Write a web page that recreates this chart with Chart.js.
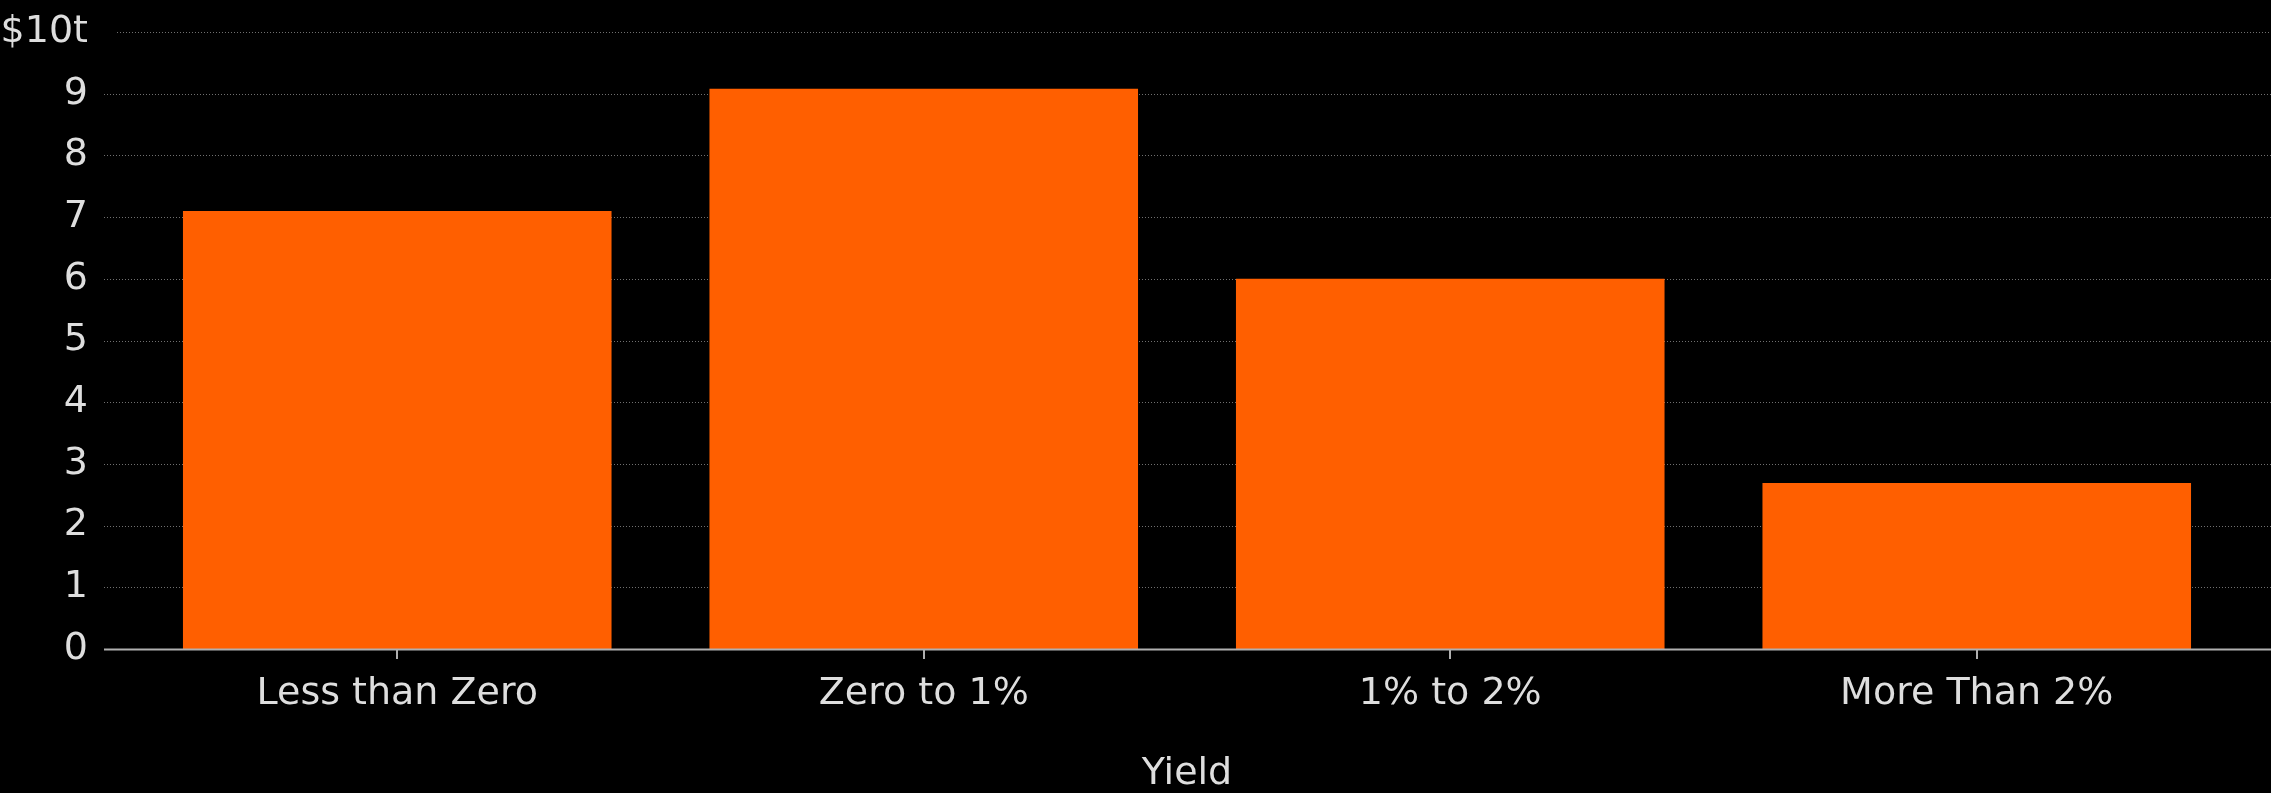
<!DOCTYPE html>
<html>
<head>
<meta charset="utf-8">
<script src="https://cdn.jsdelivr.net/npm/chart.js@4.4.0/dist/chart.umd.min.js"></script>
<style>
  html, body { margin: 0; padding: 0; background: #000; }
  #wrap { width: 2271px; height: 793px; position: relative; }
</style>
</head>
<body>
<div id="wrap"><canvas id="canvas1"></canvas></div>
<script>
// data (trillions of dollars)
var categorias = ["Less than Zero", "Zero to 1%", "1% to 2%", "More Than 2%"];
var montos = [7.1, 9.08, 6.0, 2.69];
var ticksY = [0, 1, 2, 3, 4, 5, 6, 7, 8, 9, 10];
var tituloX = "Yield";

var naranja = '#ff5f00';
var textoColor = '#dedede';
var fuente = { family: 'DejaVu Sans', size: 38 };

// dotted gridlines + zero line, stretched past the plot area like the original
var lineasExtendidas = {
  id: 'lineasExtendidas',
  beforeDatasetsDraw: function(chart) {
    var ctx = chart.ctx;
    var y = chart.scales.y;
    ctx.save();
    ticksY.forEach(function(v) {
      if (v === 0) return;
      var py = Math.round(y.getPixelForValue(v)) + 0.5;
      ctx.strokeStyle = 'rgba(150,150,150,0.75)';
      ctx.lineWidth = 1;
      ctx.setLineDash([1, 2]);
      ctx.beginPath();
      ctx.moveTo(v === 10 ? 117 : 104, py);
      ctx.lineTo(chart.width, py);
      ctx.stroke();
    });
    ctx.restore();
  },
  afterDatasetsDraw: function(chart) {
    var ctx = chart.ctx;
    var py = Math.round(chart.scales.y.getPixelForValue(0)) + 0.5;
    ctx.save();
    ctx.strokeStyle = '#b0b0b0';
    ctx.lineWidth = 2;
    ctx.beginPath();
    ctx.moveTo(104, py);
    ctx.lineTo(chart.width, py);
    ctx.stroke();
    ctx.restore();
  }
};

var ctx = document.getElementById('canvas1').getContext('2d');

const MyChart = new Chart(ctx, {
  type: 'bar',
  data: {
    labels: categorias,
    datasets: [{
      label: 'Monto',
      data: montos,
      backgroundColor: naranja,
      borderWidth: 0,
      categoryPercentage: 1,
      barPercentage: 0.814
    }]
  },
  options: {
    responsive: true,
    maintainAspectRatio: false,
    animation: false,
    layout: { padding: { top: 32, right: 31, bottom: 0, left: 0 } },
    plugins: {
      legend: { display: false },
      tooltip: { enabled: false }
    },
    scales: {
      x: {
        grid: {
          display: true,
          drawOnChartArea: false,
          drawTicks: true,
          tickLength: 10,
          offset: false,
          color: '#b0b0b0',
          lineWidth: 2
        },
        border: { display: false },
        ticks: { color: textoColor, font: fuente, padding: 12, maxRotation: 0 },
        title: {
          display: true,
          text: tituloX,
          color: textoColor,
          font: { family: 'DejaVu Sans', size: 38, lineHeight: 1.0 },
          padding: { top: 0, bottom: 0 }
        },
        afterFit: function(scale) {
          scale.height = 144;
          scale.paddingLeft = 0;
          scale.paddingRight = 0;
        }
      },
      y: {
        min: 0,
        max: 10,
        grid: { display: false, drawTicks: false },
        border: { display: false },
        ticks: {
          stepSize: 1,
          color: textoColor,
          font: fuente,
          padding: 46,
          callback: function(v) { return v === 10 ? '$10t' : v; }
        },
        afterFit: function(scale) {
          scale.width = 134;
          scale.paddingTop = 0;
          scale.paddingBottom = 0;
        }
      }
    }
  },
  plugins: [lineasExtendidas]
});
</script>
</body>
</html>
